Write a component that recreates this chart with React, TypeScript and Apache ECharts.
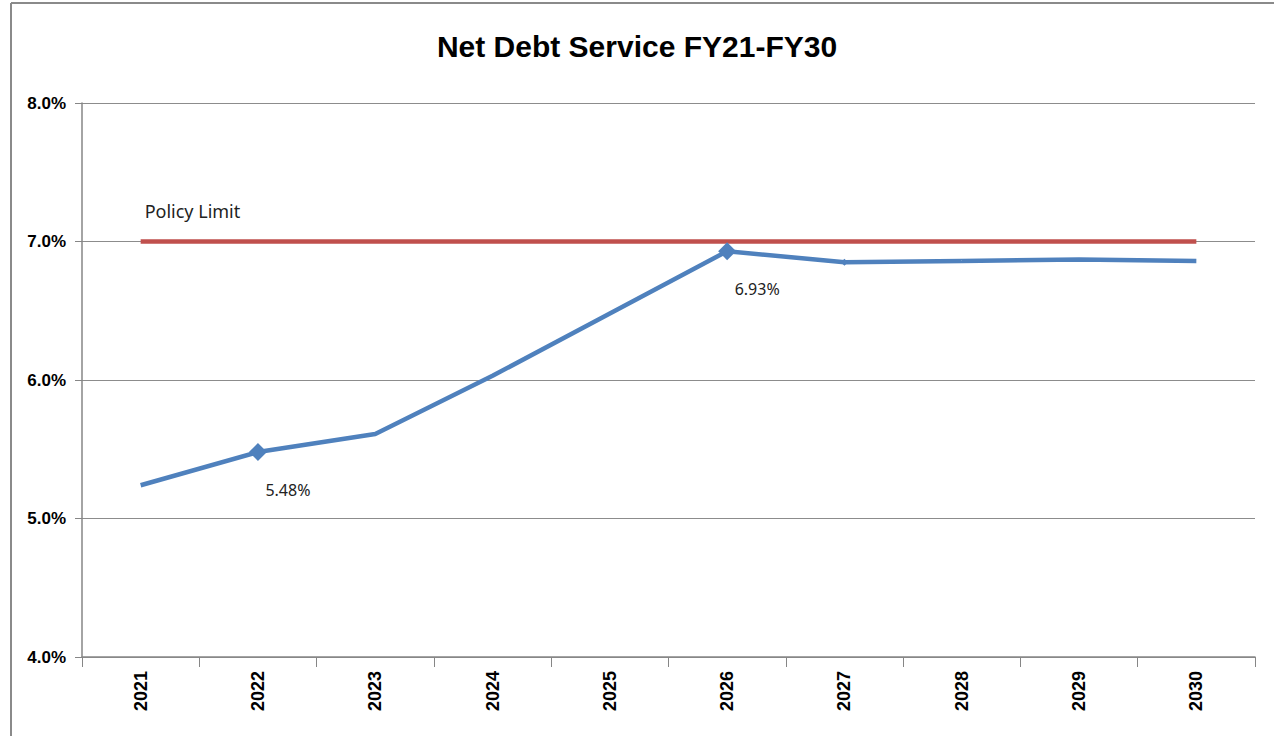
import React, { useEffect, useRef } from "react";
import * as echarts from "echarts";

const years = ["2021", "2022", "2023", "2024", "2025", "2026", "2027", "2028", "2029", "2030"];
const netDebtService = [5.24, 5.48, 5.61, 6.03, 6.48, 6.93, 6.85, 6.86, 6.87, 6.86];
const policyLimit = [7.0, 7.0, 7.0, 7.0, 7.0, 7.0, 7.0, 7.0, 7.0, 7.0];
const labelledYears = ["2022", "2026"];
const yTicks = { min: 4, max: 8, interval: 1 };

const FONT = "'Liberation Sans Narrow', 'Liberation Sans', 'Noto Sans', sans-serif";

export default function App() {
  const ref = useRef<HTMLDivElement>(null);
  useEffect(() => {
    if (!ref.current) return;
    const chart = echarts.init(ref.current, undefined, { renderer: "svg" });
    const blueData = netDebtService.map((v, i) => {
      const labelled = labelledYears.includes(years[i]);
      return {
        value: v,
        symbol: labelled ? "diamond" : years[i] === "2027" ? "diamond" : "none",
        symbolSize: labelled ? 18 : 7,
        label: labelled
          ? {
              show: true,
              position: "bottom",
              offset: [30, 16],
              formatter: v.toFixed(2) + "%",
              fontFamily: "'Noto Sans', sans-serif",
              fontSize: 16,
              color: "#222",
            }
          : { show: false },
      };
    });
    const redData = policyLimit.map((v, i) => ({
      value: v,
      label:
        i === 0
          ? {
              show: true,
              position: "top",
              align: "left",
              distance: 22,
              offset: [4, 0],
              formatter: "Policy Limit",
              fontFamily: "'Noto Sans', sans-serif",
              fontSize: 18,
              color: "#222",
            }
          : { show: false },
    }));
    chart.setOption({
      animation: false,
      backgroundColor: "#fff",
      title: {
        text: "Net Debt Service FY21-FY30",
        left: "center",
        top: 26,
        textStyle: {
          fontFamily: FONT,
          fontWeight: "bold",
          fontSize: 30,
          color: "#000",
        },
      },
      grid: { left: 82, right: 19, top: 103, bottom: 79, containLabel: false },
      xAxis: {
        type: "category",
        data: years,
        boundaryGap: true,
        axisLine: { lineStyle: { color: "#868686", width: 1.5 } },
        axisTick: { show: true, length: 10, interval: 0, lineStyle: { color: "#868686" } },
        axisLabel: {
          rotate: 90,
          interval: 0,
          margin: 14,
          fontFamily: FONT,
          fontWeight: "bold",
          fontSize: 18,
          color: "#000",
        },
      },
      yAxis: {
        type: "value",
        min: yTicks.min,
        max: yTicks.max,
        interval: yTicks.interval,
        axisLine: { show: true, lineStyle: { color: "#868686", width: 1.5 } },
        axisTick: { show: true, length: 7, lineStyle: { color: "#868686" } },
        axisLabel: {
          formatter: (v: number) => v.toFixed(1) + "%",
          fontFamily: FONT,
          fontWeight: "bold",
          fontSize: 17,
          color: "#000",
          margin: 16,
        },
        splitLine: { show: true, lineStyle: { color: "#8c8c8c", width: 1.2 } },
      },
      series: [
        {
          name: "Policy Limit",
          type: "line",
          data: redData,
          symbol: "circle",
          symbolSize: 0,
          showSymbol: true,
          lineStyle: { color: "#c0504d", width: 4.5 },
          itemStyle: { color: "#c0504d" },
          z: 3,
        },
        {
          name: "Net Debt Service",
          type: "line",
          data: blueData,
          showSymbol: true,
          lineStyle: { color: "#4f81bd", width: 4.5 },
          itemStyle: { color: "#4f81bd" },
          z: 4,
        },
      ],
      graphic: [
        { type: "line", shape: { x1: 11, y1: 3, x2: 11, y2: 736 }, style: { stroke: "#8a8a8a", lineWidth: 2 } },
        { type: "line", shape: { x1: 11, y1: 3, x2: 1274, y2: 3 }, style: { stroke: "#8a8a8a", lineWidth: 2 } },
      ],
    });
    return () => chart.dispose();
  }, []);
  return (
    <div
      ref={ref}
      style={{ position: "fixed", left: 0, top: 0, width: 1274, height: 736 }}
    />
  );
}
